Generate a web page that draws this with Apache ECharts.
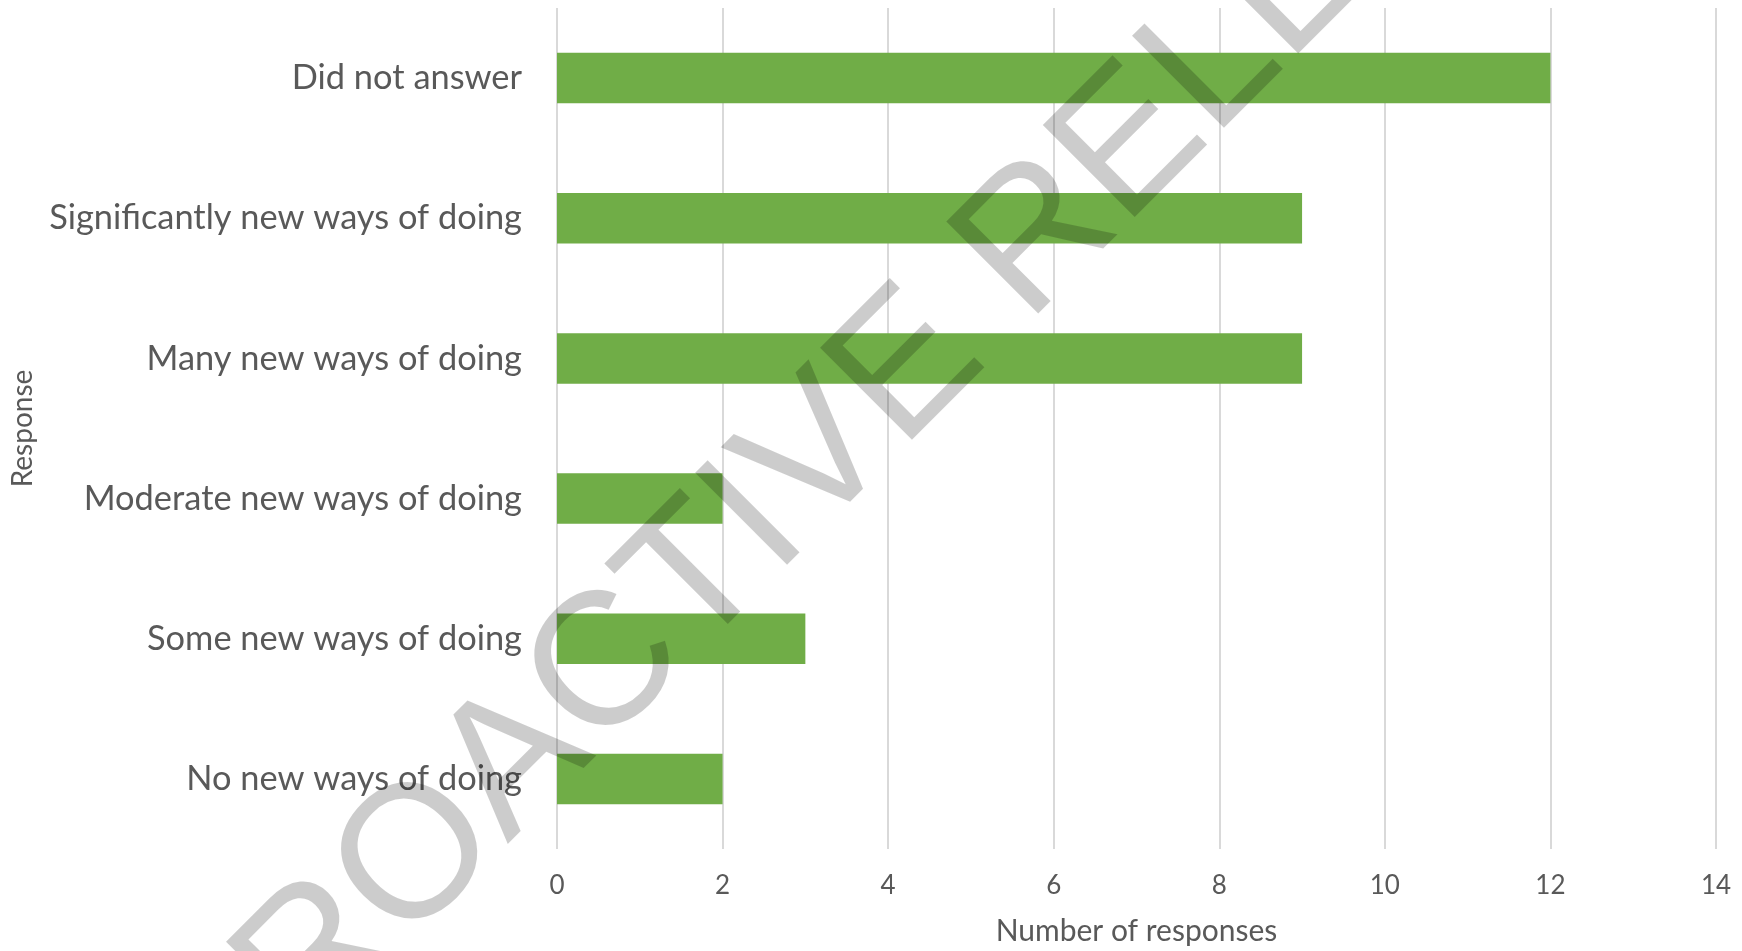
<!DOCTYPE html>
<html>
<head>
<meta charset="utf-8">
<script src="https://cdn.jsdelivr.net/npm/echarts@6/dist/echarts.min.js"></script>
<style>
html,body{margin:0;padding:0;background:#fff;}
#chart{width:1742px;height:951px;}
</style>
</head>
<body>
<div id="chart"></div>
<script>
const categories = ['No new ways of doing','Some new ways of doing','Moderate new ways of doing','Many new ways of doing','Significantly new ways of doing','Did not answer'];
const values = [2, 3, 2, 9, 9, 12];
const xTicks = [0, 2, 4, 6, 8, 10, 12, 14];
const xName = 'Number of responses';
const yName = 'Response';
const watermark = 'PROACTIVE RELEASE';

const FONT = 'Lato';
const TXT = '#595959';
const chart = echarts.init(document.getElementById('chart'));
chart.setOption({
  backgroundColor: '#ffffff',
  animation: false,
  grid: { left: 557, right: 26, top: 8, bottom: 101, containLabel: false },
  xAxis: {
    type: 'value', min: xTicks[0], max: xTicks[xTicks.length - 1], interval: xTicks[1] - xTicks[0],
    axisLine: { show: false }, axisTick: { show: false },
    splitLine: { show: true, lineStyle: { color: '#d9d9d9', width: 2 } },
    axisLabel: { color: TXT, fontFamily: FONT, fontSize: 26, margin: 24 },
    name: xName, nameLocation: 'middle', nameGap: 67,
    nameTextStyle: { color: TXT, fontFamily: FONT, fontSize: 30 }
  },
  yAxis: {
    type: 'category', data: categories,
    axisLine: { show: false }, axisTick: { show: false },
    axisLabel: { color: TXT, fontFamily: FONT, fontSize: 34.4, margin: 35 },
    name: yName, nameLocation: 'middle', nameGap: 520, nameRotate: 90,
    nameTextStyle: { color: TXT, fontFamily: FONT, fontSize: 28 }
  },
  series: [{
    type: 'bar', data: values, barWidth: '36%',
    itemStyle: { color: '#70ad47' }
  }],
  graphic: [{
    type: 'text', x: 894, y: 384, rotation: 45 * Math.PI / 180, z: 100,
    style: {
      text: watermark, fill: 'rgba(0,0,0,0.2)', font: '189px "Liberation Sans"',
      align: 'center', verticalAlign: 'middle'
    }
  }]
});
</script>
</body>
</html>
